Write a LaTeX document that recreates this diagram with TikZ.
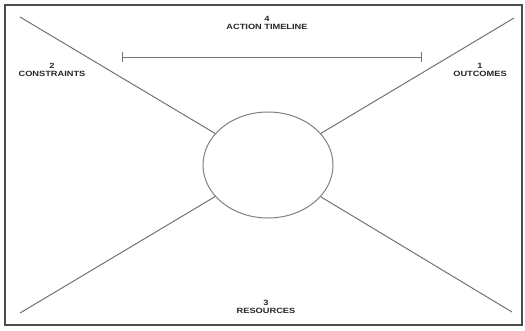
\documentclass[tikz,border=0pt]{standalone}
\usepackage{fontspec}
\setmainfont{Liberation Sans}
\usetikzlibrary{shapes.geometric}
\begin{document}
\begin{tikzpicture}[x=1bp,y=-1bp,
  ray/.style={draw=black!55, line width=1bp},
  lbl/.style={font=\bfseries\fontsize{7.6}{8.2}\selectfont, align=center, inner sep=0pt, xscale=1.22, text=black!85},
  frame/.style={draw=black!70, line width=1.3bp}]
\useasboundingbox (0,0) rectangle (525,330);
\draw[frame] (5,5) rectangle (522,325);
\node[ellipse, draw=black!50, line width=1bp, minimum width=130bp, minimum height=106bp, inner sep=0pt] (hub) at (268,165) {};
\coordinate (tl) at (20,17);
\coordinate (tr) at (514,18);
\coordinate (bl) at (20,313);
\coordinate (br) at (512,312);
\draw[ray] (tl) -- (hub);
\draw[ray] (tr) -- (hub);
\draw[ray] (bl) -- (hub);
\draw[ray] (br) -- (hub);
\coordinate (ts) at (122,57);
\coordinate (te) at (421,57);
\draw[ray] (ts) -- (te);
\draw[ray] ([yshift=-5bp]ts) -- ([yshift=5bp]ts);
\draw[ray] ([yshift=-5bp]te) -- ([yshift=5bp]te);
\node[lbl] (action) at (267,23) {4\\ACTION TIMELINE};
\node[lbl] (constraints) at (52,70) {2\\CONSTRAINTS};
\node[lbl] (outcomes) at (480,70) {1\\OUTCOMES};
\node[lbl] (resources) at (266,307) {3\\RESOURCES};
\end{tikzpicture}
\end{document}
